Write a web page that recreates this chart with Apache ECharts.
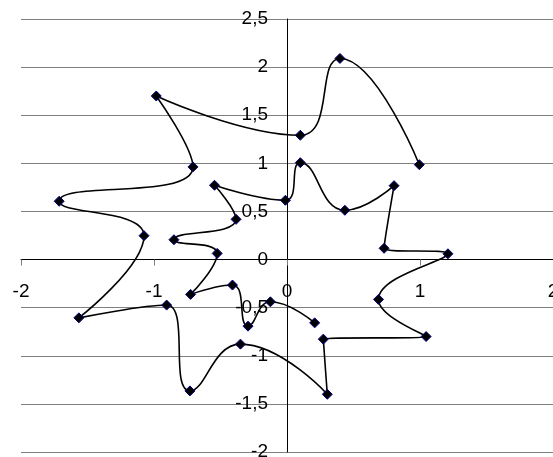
<!DOCTYPE html>
<html>
<head>
<meta charset="utf-8">
<script src="https://cdn.jsdelivr.net/npm/echarts@6/dist/echarts.min.js"></script>
<style>
  html, body { margin: 0; padding: 0; background: #fff; }
  #chart { width: 553px; height: 457px; }
</style>
</head>
<body>
<div id="chart"></div>
<script>
// points of the curve, in drawing order
const xValues = [0.995, 0.398, 0.10, -0.983, -0.707, -1.713, -1.075, -1.565, -0.905, -0.73,
  -0.35, 0.303, 0.273, 1.046, 0.688, 1.21, 0.73, 0.805, 0.435, 0.10,
  -0.012, -0.545, -0.383, -0.85, -0.525, -0.725, -0.41, -0.293, -0.125, 0.208];
const yValues = [0.986, 2.09, 1.292, 1.70, 0.963, 0.606, 0.248, -0.606, -0.473, -1.365,
  -0.879, -1.40, -0.827, -0.80, -0.414, 0.06, 0.117, 0.768, 0.512, 1.007,
  0.616, 0.772, 0.418, 0.206, 0.064, -0.362, -0.265, -0.692, -0.439, -0.658];
const xTicks = [-2, -1, 0, 1, 2];
const yTicks = [-2, -1.5, -1, -0.5, 0, 0.5, 1, 1.5, 2, 2.5];

const points = xValues.map((x, i) => [x, yValues[i]]);
const fmt = v => String(v).replace('.', ',');

// plot box in pixels
const gLeft = 21, gRight = 0, gTop = 19, gBottom = 5;
const W = 553, H = 457;
const plotW = W - gLeft - gRight, plotH = H - gTop - gBottom;
const xMin = xTicks[0], xMax = xTicks[xTicks.length - 1];
const yMin = yTicks[0], yMax = yTicks[yTicks.length - 1];
// shift axes so they cross at 0,0
const yAxisShift = -(0 - xMin) / (xMax - xMin) * plotW;
const xAxisShift = -(0 - yMin) / (yMax - yMin) * plotH;

const chart = echarts.init(document.getElementById('chart'));
chart.setOption({
  animation: false,
  grid: { left: gLeft, right: gRight, top: gTop, bottom: gBottom, containLabel: false, outerBoundsMode: 'none' },
  xAxis: {
    type: 'value',
    min: xMin,
    max: xMax,
    interval: 1,
    offset: xAxisShift,
    axisLine: { onZero: false, lineStyle: { color: '#000', width: 1 } },
    axisTick: { show: true, length: 6, lineStyle: { color: '#808080' } },
    axisLabel: {
      margin: 23,
      color: '#000',
      fontSize: 19,
      fontFamily: 'Liberation Sans',
      showMinLabel: true,
      showMaxLabel: true,
      formatter: fmt
    },
    splitLine: { show: false }
  },
  yAxis: {
    type: 'value',
    min: yMin,
    max: yMax,
    interval: 0.5,
    offset: yAxisShift,
    axisLine: { show: true, onZero: false, lineStyle: { color: '#000', width: 1 } },
    axisTick: { show: false },
    axisLabel: {
      margin: 19,
      color: '#000',
      fontSize: 19,
      fontFamily: 'Liberation Sans',
      showMinLabel: true,
      showMaxLabel: true,
      formatter: fmt
    },
    splitLine: { show: true, lineStyle: { color: '#808080', width: 1 } }
  },
  series: [
    {
      type: 'line',
      data: points,
      smooth: 0.5,
      symbol: 'diamond',
      symbolSize: 10,
      showAllSymbol: true,
      lineStyle: { color: '#000', width: 1.6 },
      itemStyle: { color: '#000', borderColor: '#000080', borderWidth: 1 }
    }
  ]
});
</script>
</body>
</html>
